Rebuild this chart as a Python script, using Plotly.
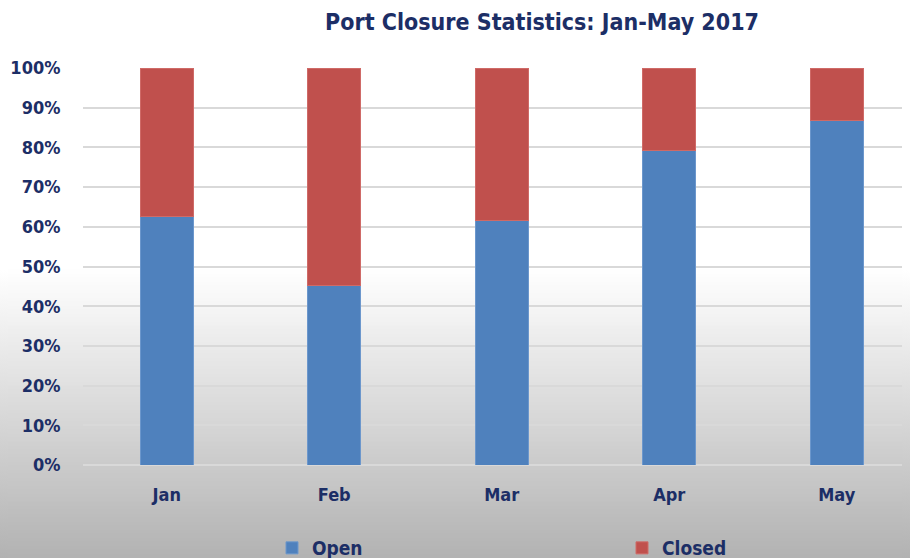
import plotly.graph_objects as go

months = ["Jan", "Feb", "Mar", "Apr", "May"]
open_pct = [62.5, 45.3, 61.7, 79.1, 86.9]
closed_pct = [37.5, 54.7, 38.3, 20.9, 13.1]
y_ticks = [0, 10, 20, 30, 40, 50, 60, 70, 80, 90, 100]
y_tick_labels = [f"{v}%" for v in y_ticks]

# page shows figure offset by the default 8px body margin
OFF = 8
W, H = 910 - OFF, 558 - OFF
L, T = 83 - OFF, 68 - OFF
plot_h = 397
B = H - T - plot_h
plot_w = W - L

FONT = "Liberation Sans Narrow, DejaVu Sans Condensed, Arial Narrow, sans-serif"
NAVY = "#1C2E66"

fig = go.Figure()
fig.add_trace(go.Bar(x=months, y=open_pct, name="<b>Open</b>", width=0.315,
                     marker=dict(color="#4F81BD", line=dict(color="#6C97CC", width=1))))
fig.add_trace(go.Bar(x=months, y=closed_pct, name="<b>Closed</b>", width=0.315,
                     marker=dict(color="#C0504D", line=dict(color="#CF6A67", width=1))))

# background gradient (white to grey toward bottom)
shapes = []
g0, g1 = 270 - OFF, H
n = 72
for i in range(n):
    p0 = g0 + (g1 - g0) * i / n
    p1 = g0 + (g1 - g0) * (i + 1) / n
    t = (i + 0.5) / n
    c = int(round(255 - (255 - 178) * t))
    shapes.append(dict(type="rect", xref="paper", yref="paper",
                       x0=-0.2, x1=1.05,
                       y0=(H - B - p1) / plot_h - 0.001, y1=(H - B - p0) / plot_h + 0.001,
                       fillcolor=f"rgb({c},{c},{c})", line=dict(width=0), layer="below"))

fig.update_layout(
    width=W, height=H,
    margin=dict(l=L, r=0, t=T, b=B, autoexpand=False),
    barmode="stack",
    paper_bgcolor="white",
    plot_bgcolor="rgba(0,0,0,0)",
    shapes=shapes,
    font=dict(family=FONT, color=NAVY, size=17),
    title=dict(text="<b>Port Closure Statistics: Jan-May 2017</b>",
               x=(542 - OFF) / W, xref="container", xanchor="center",
               y=1 - (22 - OFF) / H, yref="container", yanchor="middle",
               font=dict(size=23, color=NAVY, family=FONT)),
    xaxis=dict(range=[-0.5, -0.5 + plot_w / 167.5], showgrid=False, zeroline=False,
               showline=False, ticks="outside", ticklen=13, tickcolor="rgba(0,0,0,0)",
               tickfont=dict(size=18, color=NAVY, family=FONT), automargin=False,
               tickvals=months, ticktext=[f"<b>{m}</b>" for m in months], fixedrange=True),
    yaxis=dict(range=[0, 100], tickvals=y_ticks, automargin=False,
               ticktext=[f"<b>{t}</b>" for t in y_tick_labels],
               showgrid=True, gridcolor="#D9D9D9", gridwidth=1.5,
               zeroline=True, zerolinecolor="#D9D9D9", zerolinewidth=1.5,
               ticks="outside", ticklen=18, tickcolor="rgba(0,0,0,0)",
               tickfont=dict(size=18, color=NAVY, family=FONT)),
    legend=dict(orientation="h", xref="container", yref="container",
                x=(272 - OFF) / W, xanchor="left", y=10 / H, yanchor="middle",
                entrywidth=305, entrywidthmode="pixels",
                font=dict(size=19, color=NAVY, family=FONT),
                bgcolor="rgba(0,0,0,0)", traceorder="normal"),
    showlegend=True,
)

fig.write_html(
    "out.html",
    post_script="document.body.style.background='linear-gradient(to bottom, #ffffff 270px, #b2b2b2 558px)';"
                "document.body.style.minHeight='558px';",
)
